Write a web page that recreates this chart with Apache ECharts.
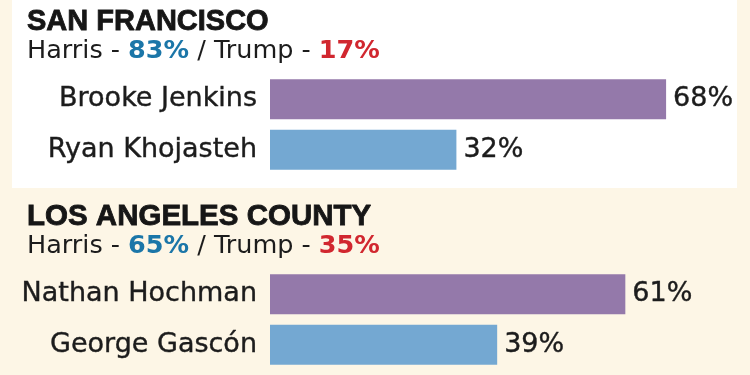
<!DOCTYPE html>
<html>
<head>
<meta charset="utf-8">
<script src="https://cdn.jsdelivr.net/npm/echarts@6/dist/echarts.min.js"></script>
<style>
  html, body { margin: 0; padding: 0; background: #fdf6e6; }
  #main { width: 750px; height: 375px; }
</style>
</head>
<body>
<div id="main"></div>
<script>
// district attorney races
var sfName = "SAN FRANCISCO";
var sfPres = [83, 17]; // Harris, Trump
var sfCandidates = ["Brooke Jenkins", "Ryan Khojasteh"];
var sfVotes = [68, 32];

var laName = "LOS ANGELES COUNTY";
var laPres = [65, 35];
var laCandidates = ["Nathan Hochman", "George Gascón"];
var laVotes = [61, 39];

var barColors = ["#9479aa", "#74a8d2"];

var nameFont = "DejaVu Sans";
var inkColor = "#1c1c1c";

function presLine(p) {
  return "Harris - {h|" + p[0] + "%} / Trump - {t|" + p[1] + "%}";
}

function headTitles(name, pres, top, size) {
  return [
    {
      text: name,
      left: 22,
      top: top,
      textStyle: {
        fontFamily: "Liberation Sans",
        fontWeight: "bold",
        fontSize: size,
        color: "#161616",
        textBorderColor: "#161616",
        textBorderWidth: 0.8,
      },
    },
    {
      text: presLine(pres),
      left: 22,
      top: top + 31,
      textStyle: {
        fontFamily: nameFont,
        fontWeight: "normal",
        fontSize: 25.5,
        color: inkColor,
        rich: {
          h: { fontFamily: nameFont, fontSize: 25.5, fontWeight: "bold", color: "#1b76a8" },
          t: { fontFamily: nameFont, fontSize: 25.5, fontWeight: "bold", color: "#d1272f" },
        },
      },
    },
  ];
}

function makeYAxis(idx, data) {
  return {
    type: "category",
    gridIndex: idx,
    inverse: true,
    data: data,
    axisLine: { show: false },
    axisTick: { show: false },
    axisLabel: {
      margin: 13,
      fontFamily: nameFont,
      fontSize: 27,
      color: inkColor,
      textBorderColor: inkColor,
      textBorderWidth: 0.4,
    },
  };
}

function makeXAxis(idx) {
  return {
    type: "value",
    gridIndex: idx,
    min: 0,
    max: 80,
    show: false,
  };
}

function makeSeries(idx, votes) {
  return {
    type: "bar",
    xAxisIndex: idx,
    yAxisIndex: idx,
    barWidth: 40,
    data: votes.map(function (v, i) {
      return { value: v, itemStyle: { color: barColors[i] } };
    }),
    label: {
      show: true,
      position: "right",
      distance: 7,
      formatter: "{c}%",
      fontFamily: nameFont,
      fontSize: 27,
      color: inkColor,
      textBorderColor: inkColor,
      textBorderWidth: 0.4,
    },
    silent: true,
  };
}

var myChart = echarts.init(document.getElementById("main"));
var option = {
  backgroundColor: "#fdf6e6",
  animation: false,
  graphic: [
    {
      type: "rect",
      z: -10,
      shape: { x: 12, y: 0, width: 725, height: 188 },
      style: { fill: "#ffffff" },
    },
  ],
  title: headTitles(sfName, sfPres, 2, 29).concat(headTitles(laName, laPres, 197, 29.5)),
  grid: [
    { left: 270, top: 74, width: 466, height: 101 },
    { left: 270, top: 269, width: 466, height: 101 },
  ],
  xAxis: [makeXAxis(0), makeXAxis(1)],
  yAxis: [makeYAxis(0, sfCandidates), makeYAxis(1, laCandidates)],
  series: [makeSeries(0, sfVotes), makeSeries(1, laVotes)],
};

myChart.setOption(option);
</script>
</body>
</html>
